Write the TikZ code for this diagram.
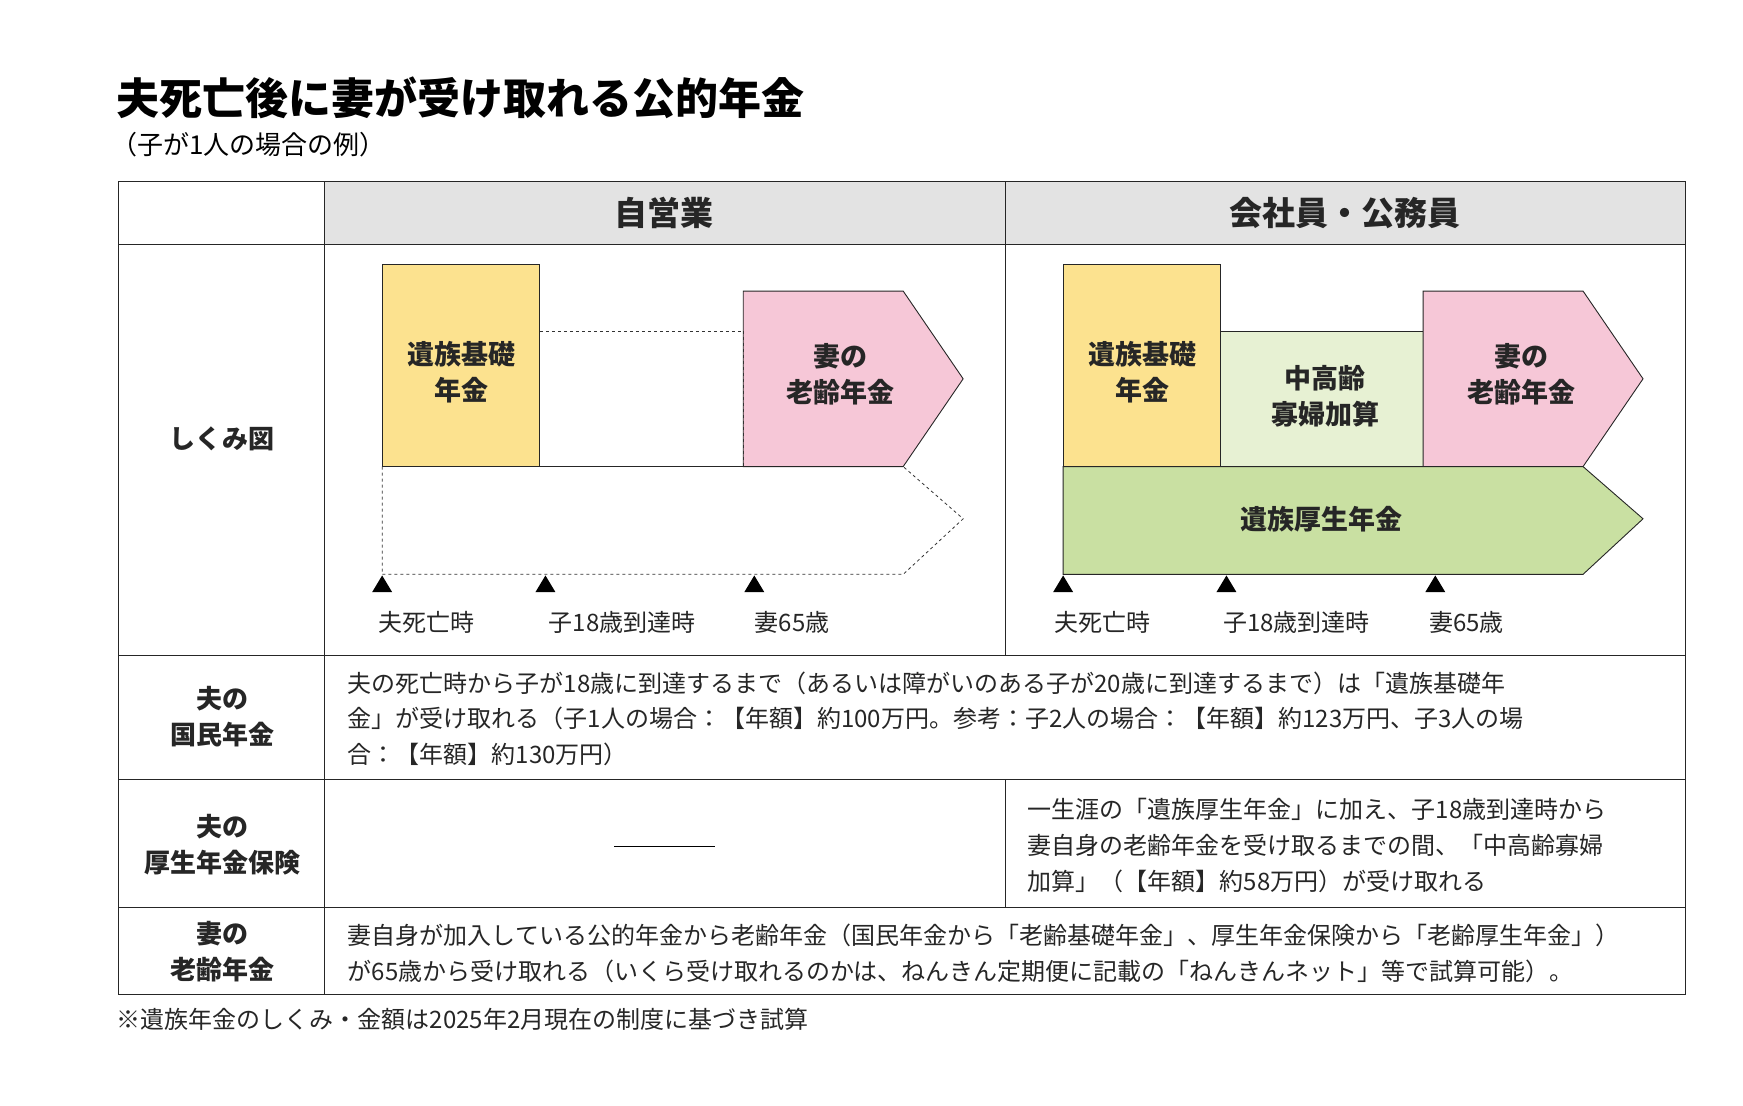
\documentclass[tikz,border=0pt]{standalone}
\usepackage{fontspec}
\setmainfont{Noto Sans CJK JP}
\begin{document}
\begin{tikzpicture}[x=1.111pt,y=-1.111pt,
  tx/.style={inner sep=0pt,font=\fontsize{24}{28}\selectfont,text=black!85},
  lbl/.style={inner sep=0pt,align=center,font=\fontsize{27}{36}\selectfont\bfseries,text=black!85},
  bx/.style={draw=black!85,line width=0.9pt},
  dsh/.style={draw=black!80,dashed,line width=0.8pt},
  tri/.style={fill=black,draw=none}]
\useasboundingbox (0,0) rectangle (1569,995);
\definecolor{yel}{HTML}{FCE28F}
\definecolor{pnk}{HTML}{F6C7D7}
\definecolor{grn}{HTML}{C9E0A2}
\definecolor{lgr}{HTML}{E7F1D3}
\definecolor{hdr}{HTML}{E3E3E3}
% title
\node[anchor=west,inner sep=0pt,font=\fontsize{43}{48}\selectfont\bfseries] (title) at (105,88) {夫死亡後に妻が受け取れる公的年金};
\node[anchor=west,inner sep=0pt,font=\fontsize{26}{30}\selectfont] (sub) at (100,130) {（子が1人の場合の例）};
% table
\fill[hdr] (292,163) rectangle (1517,220);
\draw[bx] (107,163) rectangle (1517,895);
\foreach \y in {220,590,702,817} \draw[bx] (107,\y) -- (1517,\y);
\draw[bx] (292,163) -- (292,895);
\draw[bx] (905,163) -- (905,590);
\draw[bx] (905,702) -- (905,817);
\node[lbl,font=\fontsize{33}{36}\selectfont\bfseries] (h1) at (598,192) {自営業};
\node[lbl,font=\fontsize{33}{36}\selectfont\bfseries] (h2) at (1211,192) {会社員・公務員};
\node[lbl,font=\fontsize{26}{36}\selectfont\bfseries] (r1) at (200,395) {しくみ図};
\node[lbl,font=\fontsize{26}{36}\selectfont\bfseries] (r2) at (200,645) {夫の\\国民年金};
\node[lbl,font=\fontsize{26}{36}\selectfont\bfseries] (r3) at (200,760) {夫の\\厚生年金保険};
\node[lbl,font=\fontsize{26}{36}\selectfont\bfseries] (r4) at (200,857) {妻の\\老齢年金};
% left diagram
\draw[bx,fill=yel] (344,238) rectangle (486,420);
\node[lbl] (a1) at (415,335) {遺族基礎\\年金};
\draw[dsh] (486,298) -- (669,298);
\draw[bx,fill=pnk] (669,262) -- (813,262) -- (867,341) -- (813,420) -- (669,420) -- cycle;
\node[lbl] (a2) at (757,337) {妻の\\老齢年金};
\draw[dsh] (669,298) -- (669,420);
\draw[dsh] (344,420) -- (344,517) -- (813,517) -- (867,467) -- (813,420);
\draw[bx] (486,420) -- (669,420);
\foreach \x in {344,491,679} \fill[tri] (\x-9,533) -- (\x+9,533) -- (\x,518) -- cycle;
\node[tx] (t1) at (384,560) {夫死亡時};
\node[tx] (t2) at (560,560) {子18歳到達時};
\node[tx] (t3) at (713,560) {妻65歳};
% right diagram
\draw[bx,fill=yel] (957,238) rectangle (1099,420);
\node[lbl] (b1) at (1028,335) {遺族基礎\\年金};
\draw[bx,fill=lgr] (1099,298) rectangle (1281,420);
\node[lbl] (b2) at (1193,357) {中高齢\\寡婦加算};
\draw[bx,fill=pnk] (1281,262) -- (1425,262) -- (1479,341) -- (1425,420) -- (1281,420) -- cycle;
\node[lbl] (b3) at (1370,337) {妻の\\老齢年金};
\draw[bx,fill=grn] (957,420) -- (1425,420) -- (1479,467) -- (1425,517) -- (957,517) -- cycle;
\node[lbl] (b4) at (1190,467) {遺族厚生年金};
\foreach \x in {957,1104,1292} \fill[tri] (\x-9,533) -- (\x+9,533) -- (\x,518) -- cycle;
\node[tx] (u1) at (992,560) {夫死亡時};
\node[tx] (u2) at (1167,560) {子18歳到達時};
\node[tx] (u3) at (1320,560) {妻65歳};
% row texts
\node[tx,anchor=west] (k1) at (313,615) {夫の死亡時から子が18歳に到達するまで（あるいは障がいのある子が20歳に到達するまで）は「遺族基礎年};
\node[tx,anchor=west] (k2) at (313,647) {金」が受け取れる（子1人の場合：【年額】約100万円。参考：子2人の場合：【年額】約123万円、子3人の場};
\node[tx,anchor=west] (k3) at (313,679) {合：【年額】約130万円）};
\draw[line width=0.8pt] (553,762) -- (644,762);
\node[tx,anchor=west] (m1) at (925,729) {一生涯の「遺族厚生年金」に加え、子18歳到達時から};
\node[tx,anchor=west] (m2) at (925,761) {妻自身の老齢年金を受け取るまでの間、「中高齢寡婦};
\node[tx,anchor=west] (m3) at (925,793) {加算」（【年額】約58万円）が受け取れる};
\node[tx,anchor=west] (n1) at (313,842) {妻自身が加入している公的年金から老齢年金（国民年金から「老齢基礎年金」、厚生年金保険から「老齢厚生年金」）};
\node[tx,anchor=west] (n2) at (313,874) {が65歳から受け取れる（いくら受け取れるのかは、ねんきん定期便に記載の「ねんきんネット」等で試算可能）。};
\node[tx,anchor=west] (foot) at (105,918) {※遺族年金のしくみ・金額は2025年2月現在の制度に基づき試算};
\end{tikzpicture}
\end{document}
